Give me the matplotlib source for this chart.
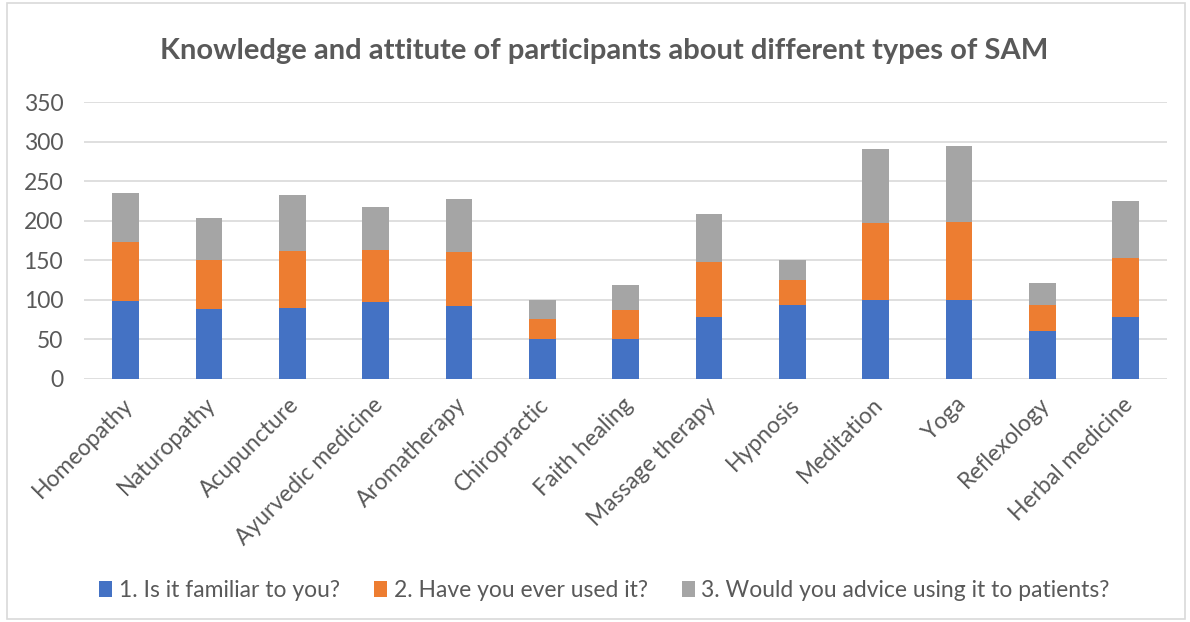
import numpy as np
import matplotlib
matplotlib.use("Agg")
import matplotlib.pyplot as plt
from matplotlib.patches import Rectangle
from matplotlib.transforms import ScaledTranslation

plt.rcParams['font.family'] = ['Lato', 'DejaVu Sans']

categories = ["Homeopathy", "Naturopathy", "Acupuncture", "Ayurvedic medicine",
              "Aromatherapy", "Chiropractic", "Faith healing", "Massage therapy",
              "Hypnosis", "Meditation", "Yoga", "Reflexology", "Herbal medicine"]
familiar = [98, 88, 90, 97, 92, 50, 51, 78, 94, 100, 100, 61, 78]
used = [75, 62, 72, 66, 69, 26, 36, 70, 31, 97, 98, 32, 75]
advice = [62, 54, 70, 54, 67, 24, 32, 61, 25, 94, 97, 28, 72]
series_names = ["1. Is it familiar to you?", "2. Have you ever used it?",
                "3. Would you advice using it to patients?"]
colors = ["#4472C4", "#ED7D31", "#A5A5A5"]
text_col = "#595959"

fig = plt.figure(figsize=(11.9, 6.22), dpi=100)
ax = fig.add_axes([0.0706, 0.3907, 0.9104, 0.4453])

x = np.arange(len(categories))
w = 0.32
b1 = np.array(familiar)
b2 = b1 + np.array(used)
ax.bar(x, familiar, w, color=colors[0], label=series_names[0], zorder=3)
ax.bar(x, used, w, bottom=b1, color=colors[1], label=series_names[1], zorder=3)
ax.bar(x, advice, w, bottom=b2, color=colors[2], label=series_names[2], zorder=3)

ax.set_xlim(-0.5, len(categories) - 0.5)
ax.set_ylim(0, 350)
ax.set_yticks(np.arange(0, 351, 50))
ax.yaxis.grid(True, color="#D9D9D9", linewidth=1.2, zorder=0)
ax.set_axisbelow(True)
for s in ax.spines.values():
    s.set_visible(False)
ax.tick_params(axis='both', length=0, labelsize=16.5, labelcolor=text_col)
ax.tick_params(axis='y', pad=15)
ax.set_xticks(x)
ax.set_xticklabels(categories, rotation=45, ha='right', va='top',
                   rotation_mode='anchor')
for lbl in ax.get_xticklabels():
    lbl.set_transform(lbl.get_transform() + ScaledTranslation(-0.04, -0.1, fig.dpi_scale_trans))

fig.text(0.508, 0.918, "Knowledge and attitute of participants about different types of SAM",
         ha='center', va='center', fontsize=21, fontweight='bold', color=text_col)

leg = fig.legend(loc='center', bbox_to_anchor=(0.508, 0.05), ncol=3, frameon=False,
                 fontsize=16.5, handlelength=0.55, handleheight=0.7, columnspacing=1.5,
                 handletextpad=0.3)
for t in leg.get_texts():
    t.set_color(text_col)

fig.patches.append(Rectangle((0.006, 0.005), 0.99, 0.99, transform=fig.transFigure,
                             fill=False, edgecolor="#D9D9D9", linewidth=1.2))

fig.savefig("out.png", dpi=100)
